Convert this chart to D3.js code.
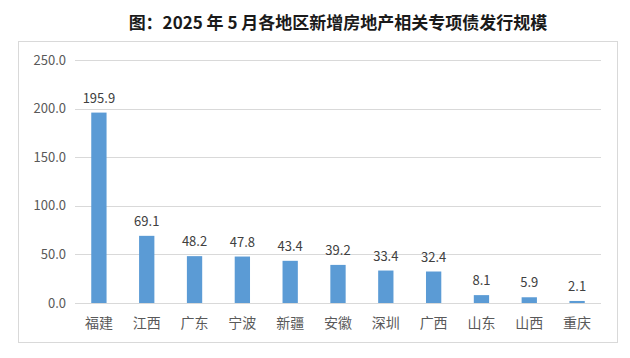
<!DOCTYPE html>
<html><head><meta charset="utf-8">
<script src="https://cdn.jsdelivr.net/npm/d3@7"></script>
<style>body{margin:0;background:#fff;}svg{display:block;}</style>
</head><body>
<svg id="c" width="630" height="358"></svg>
<script>
const categories = ["福建","江西","广东","宁波","新疆","安徽","深圳","广西","山东","山西","重庆"];
const values = [195.9,69.1,48.2,47.8,43.4,39.2,33.4,32.4,8.1,5.9,2.1];
const yTicks = [0,50,100,150,200,250];
const title = "图：2025 年 5 月各地区新增房地产相关专项债发行规模";

const svg = d3.select("#c");
const font = "'Noto Sans CJK SC','Microsoft YaHei',sans-serif";
svg.append("text").attr("x",338).attr("y",29).attr("text-anchor","middle")
  .attr("font-family",font).attr("font-weight","bold").attr("font-size",17)
  .attr("fill","#1a1a1a").text(title);
svg.append("rect").attr("x",18.5).attr("y",41.5).attr("width",599).attr("height",301)
  .attr("fill","none").attr("stroke","#d9d9d9");

const x = d3.scaleBand().domain(categories).range([75,601]).paddingInner(0.68).paddingOuter(0.34);
const y = d3.scaleLinear().domain([0,250]).range([303,60]);

const g = svg.append("g");
g.selectAll(".grid").data(yTicks).join("line")
  .attr("x1",75).attr("x2",601).attr("y1",d=>Math.round(y(d))+0.5).attr("y2",d=>Math.round(y(d))+0.5)
  .attr("stroke","#d9d9d9");
g.selectAll(".yl").data(yTicks).join("text")
  .attr("x",66).attr("y",d=>y(d)+4.5).attr("text-anchor","end")
  .attr("font-family",font).attr("font-size",13).attr("fill","#595959")
  .text(d=>d.toFixed(1));
g.selectAll(".bar").data(values).join("rect")
  .attr("x",(d,i)=>x(categories[i])).attr("width",x.bandwidth())
  .attr("y",d=>y(d)).attr("height",d=>y(0)-y(d)).attr("fill","#5B9BD5");
g.selectAll(".vl").data(values).join("text")
  .attr("x",(d,i)=>x(categories[i])+x.bandwidth()/2).attr("y",d=>y(d)-10)
  .attr("text-anchor","middle").attr("font-family",font).attr("font-size",13).attr("fill","#404040")
  .text(d=>d.toFixed(1));
g.selectAll(".xl").data(categories).join("text")
  .attr("x",d=>x(d)+x.bandwidth()/2).attr("y",328).attr("text-anchor","middle")
  .attr("font-family",font).attr("font-size",14).attr("fill","#595959").text(d=>d);
</script>
</body></html>
